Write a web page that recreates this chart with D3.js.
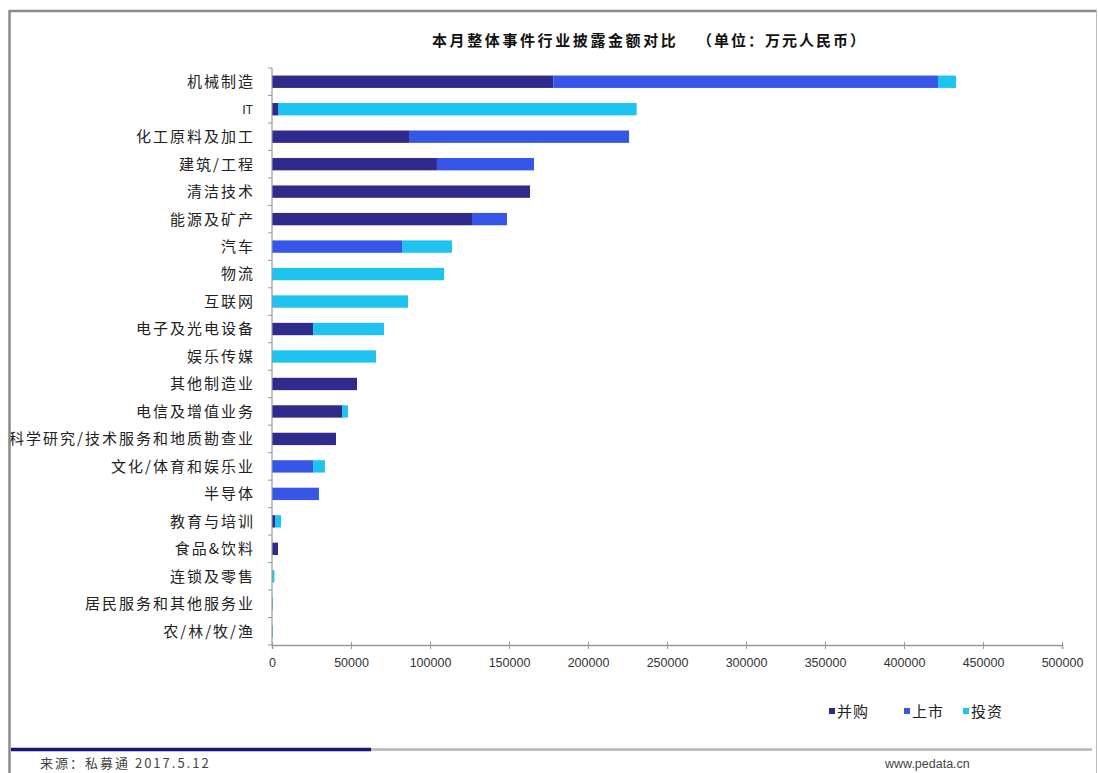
<!DOCTYPE html>
<html><head><meta charset="utf-8">
<script src="https://cdn.jsdelivr.net/npm/d3@7"></script>
<style>
html,body{margin:0;padding:0;background:#fff;}
svg{display:block;font-family:"Noto Sans CJK SC","Noto Sans",sans-serif;}
</style></head>
<body><svg id="c" width="1098" height="773"></svg>
<script>
const categories = ["机械制造","IT","化工原料及加工","建筑/工程","清洁技术","能源及矿产","汽车","物流","互联网","电子及光电设备","娱乐传媒","其他制造业","电信及增值业务","科学研究/技术服务和地质勘查业","文化/体育和娱乐业","半导体","教育与培训","食品&饮料","连锁及零售","居民服务和其他服务业","农/林/牧/渔"];
const seriesNames = ["并购","上市","投资"];
const mergers  = [178000, 3800, 86700, 104400, 163300, 126600, 0, 0, 0, 26000, 0, 53800, 44300, 40500, 0, 0, 1900, 3800, 0, 0, 0];
const listings = [243500, 0, 139300, 61400, 0, 22100, 82300, 0, 0, 0, 0, 0, 0, 0, 26000, 29700, 0, 0, 0, 0, 0];
const invests  = [11400, 227000, 0, 0, 0, 0, 31600, 108900, 86100, 44900, 65800, 0, 3800, 0, 7500, 0, 3800, 0, 1500, 600, 600];
const xTicks = [0,50000,100000,150000,200000,250000,300000,350000,400000,450000,500000];
const colors = ["#2e2b8c","#3556e6","#1ec3f0"];

const svg = d3.select("#c");

const x = d3.scaleLinear().domain([0,500000]).range([272,1062]);
const y = d3.scaleBand().domain(categories).range([68,645]).paddingInner(0.55).paddingOuter(0.275);

const stackData = categories.map((c,i)=>({cat:c, 并购:mergers[i], 上市:listings[i], 投资:invests[i]}));
const stack = d3.stack().keys(seriesNames)(stackData);

const g = svg.append("g");
stack.forEach((layer,k)=>{
  g.selectAll(null).data(layer).enter().append("rect")
    .attr("x",d=>x(d[0])).attr("width",d=>Math.max(0,x(d[1])-x(d[0])))
    .attr("y",d=>y(d.data.cat)).attr("height",y.bandwidth())
    .attr("fill",colors[k]);
});

// x axis
const xa = svg.append("g").attr("transform","translate(0,645)")
  .call(d3.axisBottom(x).tickValues(xTicks).tickFormat(d3.format("d")).tickSize(4).tickPadding(9));
xa.select(".domain").attr("stroke","#999").attr("stroke-width",1.5);
xa.selectAll(".tick line").attr("stroke","#999").attr("y1",-3);
xa.selectAll("text").attr("font-size",12.5).attr("fill","#333").attr("font-family","'Liberation Sans',Arial,sans-serif");

// y axis
svg.append("line").attr("x1",272).attr("x2",272).attr("y1",68).attr("y2",645).attr("stroke","#999").attr("stroke-width",1.2);
const bounds = d3.range(categories.length+1).map(i=>68+i*(577/categories.length));
svg.selectAll(null).data(bounds).enter().append("line")
  .attr("x1",268).attr("x2",272).attr("y1",d=>d).attr("y2",d=>d).attr("stroke","#999");
svg.selectAll(null).data(categories).enter().append("text")
  .attr("x",c=>/^[A-Za-z]+$/.test(c)?253:255).attr("y",c=>y(c)+y.bandwidth()/2).attr("dy","0.36em")
  .attr("text-anchor","end")
  .attr("font-size",c=>/^[A-Za-z]+$/.test(c)?12:15)
  .attr("letter-spacing",c=>/^[A-Za-z]+$/.test(c)?0:2)
  .attr("fill","#222").text(c=>c);

// frame (drawn over labels so the long label is clipped like the reference)
svg.append("rect").attr("x",0).attr("y",0).attr("width",9).attr("height",773).attr("fill","#fff");
svg.append("line").attr("x1",9).attr("x2",1097).attr("y1",11).attr("y2",11).attr("stroke","#8a8a8a").attr("stroke-width",2.5);
svg.append("line").attr("x1",9.5).attr("x2",9.5).attr("y1",10).attr("y2",773).attr("stroke","#8a8a8a").attr("stroke-width",2.5);
svg.append("line").attr("x1",1096.5).attr("x2",1096.5).attr("y1",10).attr("y2",773).attr("stroke","#bbb").attr("stroke-width",1);

// title
svg.append("text").attr("x",432).attr("y",46)
  .attr("font-size",15).attr("font-weight","bold").attr("letter-spacing",2.6).attr("fill","#111")
  .text("本月整体事件行业披露金额对比");
svg.append("text").attr("x",697).attr("y",46)
  .attr("font-size",15).attr("font-weight","bold").attr("letter-spacing",2).attr("fill","#111")
  .text("（单位：万元人民币）");

// legend
const legX = [829, 904, 963];
seriesNames.forEach((s,i)=>{
  svg.append("rect").attr("x",legX[i]).attr("y",708).attr("width",6).attr("height",6).attr("fill",colors[i]);
  svg.append("text").attr("x",legX[i]+8).attr("y",717).attr("font-size",15).attr("letter-spacing",1).attr("fill","#222").text(s);
});

// footer
svg.append("line").attr("x1",370).attr("x2",1092).attr("y1",749.5).attr("y2",749.5).attr("stroke","#b5b5b5").attr("stroke-width",2.5);
svg.append("line").attr("x1",11).attr("x2",371).attr("y1",749.5).attr("y2",749.5).attr("stroke","#15157a").attr("stroke-width",3.5);
svg.append("text").attr("x",40).attr("y",768).attr("font-size",13).attr("letter-spacing",2).attr("fill","#444").text("来源：私募通  2017.5.12");
svg.append("text").attr("x",885).attr("y",768).attr("font-size",12.5).attr("fill","#444").attr("font-family","'Liberation Sans',Arial,sans-serif").text("www.pedata.cn");
</script></body></html>
